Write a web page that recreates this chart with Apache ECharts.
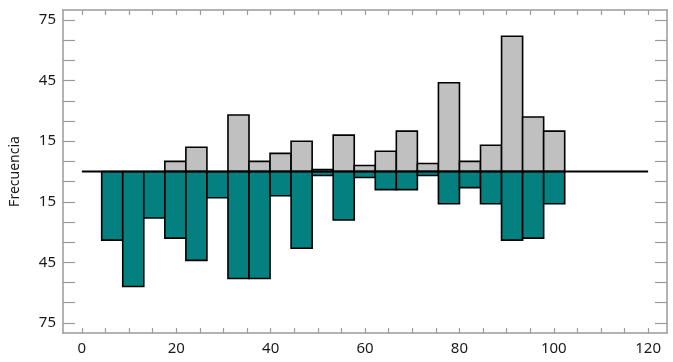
<!DOCTYPE html>
<html>
<head>
<meta charset="utf-8">
<script src="https://cdn.jsdelivr.net/npm/echarts@6/dist/echarts.min.js"></script>
<style>
html,body{margin:0;padding:0;background:#fff;}
#chart{width:673px;height:362px;}
</style>
</head>
<body>
<div id="chart"></div>
<script>
// Histogram bin edges (23 edges -> 22 bins)
const binEdges = [4.2, 8.66, 13.12, 17.58, 22.04, 26.5, 30.96, 35.42, 39.88, 44.34, 48.8,
  53.26, 57.72, 62.18, 66.64, 71.1, 75.56, 80.02, 84.48, 88.94, 93.4, 97.86, 102.32];
// Upper (gray) frequencies
const upperFreq = [0, 0, 0, 5, 12, 0, 28, 5, 9, 15, 1, 18, 3, 10, 20, 4, 44, 5, 13, 67, 27, 20];
// Lower (teal) frequencies
const lowerFreq = [34, 57, 23, 33, 44, 13, 53, 53, 12, 38, 2, 24, 3, 9, 9, 2, 16, 8, 16, 34, 33, 16];
// Axis ticks
const xTickLabels = [0, 20, 40, 60, 80, 100, 120];
const xMinorTicks = [0,5,10,15,20,25,30,35,40,45,50,55,60,65,70,75,80,85,90,95,100,105,110,115,120];
const yTickLabels = [-75, -45, -15, 15, 45, 75];
const yMinorTicks = [-75,-65,-55,-45,-35,-25,-15,-5,5,15,25,35,45,55,65,75];

const chart = echarts.init(document.getElementById('chart'));

function barData(vals, sign) {
  return vals.map((v, i) => [binEdges[i], binEdges[i + 1], sign * v]);
}
function makeRender(fill) {
  return function (params, api) {
    const v = api.value(2);
    if (!v) return null;
    const p0 = api.coord([api.value(0), 0]);
    const p1 = api.coord([api.value(1), v]);
    return {
      type: 'rect',
      shape: { x: p0[0], y: Math.min(p0[1], p1[1]), width: p1[0] - p0[0], height: Math.abs(p1[1] - p0[1]) },
      style: { fill: fill, stroke: '#000', lineWidth: 1.6 }
    };
  };
}

const frameColor = '#9a9a9a';
const labelFont = { fontFamily: 'Noto Sans', fontSize: 15, color: '#1a1a1a' };

const option = {
  animation: false,
  backgroundColor: '#fff',
  grid: { left: 63, right: 6, top: 10, bottom: 29, containLabel: false },
  xAxis: [
    {
      type: 'value', min: -4, max: 124, position: 'bottom',
      splitLine: { show: false },
      axisLine: { show: true, onZero: false, lineStyle: { color: frameColor, width: 1.5 } },
      axisTick: { show: true, inside: true, length: 5, customValues: xMinorTicks, lineStyle: { color: frameColor, width: 1.2 } },
      axisLabel: Object.assign({ customValues: xTickLabels, margin: 8 }, labelFont)
    },
    {
      type: 'value', min: -4, max: 124, position: 'top',
      splitLine: { show: false },
      axisLine: { show: true, onZero: false, lineStyle: { color: frameColor, width: 1.5 } },
      axisTick: { show: true, inside: true, length: 5, customValues: xMinorTicks, lineStyle: { color: frameColor, width: 1.2 } },
      axisLabel: { show: false }
    }
  ],
  yAxis: [
    {
      type: 'value', min: -80, max: 80, position: 'left',
      name: 'Frecuencia', nameLocation: 'middle', nameGap: 41,
      nameTextStyle: { fontFamily: 'Noto Sans', fontSize: 14, color: '#1a1a1a' },
      splitLine: { show: false },
      axisLine: { show: true, onZero: false, lineStyle: { color: frameColor, width: 1.5 } },
      axisTick: { show: true, inside: true, length: 12, customValues: yMinorTicks, lineStyle: { color: frameColor, width: 1.2 } },
      axisLabel: Object.assign({ customValues: yTickLabels, margin: 7, formatter: v => String(Math.abs(v)) }, labelFont)
    },
    {
      type: 'value', min: -80, max: 80, position: 'right',
      splitLine: { show: false },
      axisLine: { show: true, onZero: false, lineStyle: { color: frameColor, width: 1.5 } },
      axisTick: { show: true, inside: true, length: 12, customValues: yMinorTicks, lineStyle: { color: frameColor, width: 1.2 } },
      axisLabel: { show: false }
    }
  ],
  series: [
    {
      type: 'custom', name: 'upper', xAxisIndex: 0, yAxisIndex: 0,
      renderItem: makeRender('#c0c0c0'),
      encode: { x: [0, 1], y: 2 },
      data: barData(upperFreq, 1), z: 2
    },
    {
      type: 'custom', name: 'lower', xAxisIndex: 0, yAxisIndex: 0,
      renderItem: makeRender('#058080'),
      encode: { x: [0, 1], y: 2 },
      data: barData(lowerFreq, -1), z: 2
    },
    {
      type: 'line', xAxisIndex: 0, yAxisIndex: 0,
      data: [[xTickLabels[0], 0], [xTickLabels[xTickLabels.length - 1], 0]],
      symbol: 'none', silent: true,
      lineStyle: { color: '#000', width: 1.8 }, z: 5
    }
  ]
};
chart.setOption(option);
</script>
</body>
</html>
